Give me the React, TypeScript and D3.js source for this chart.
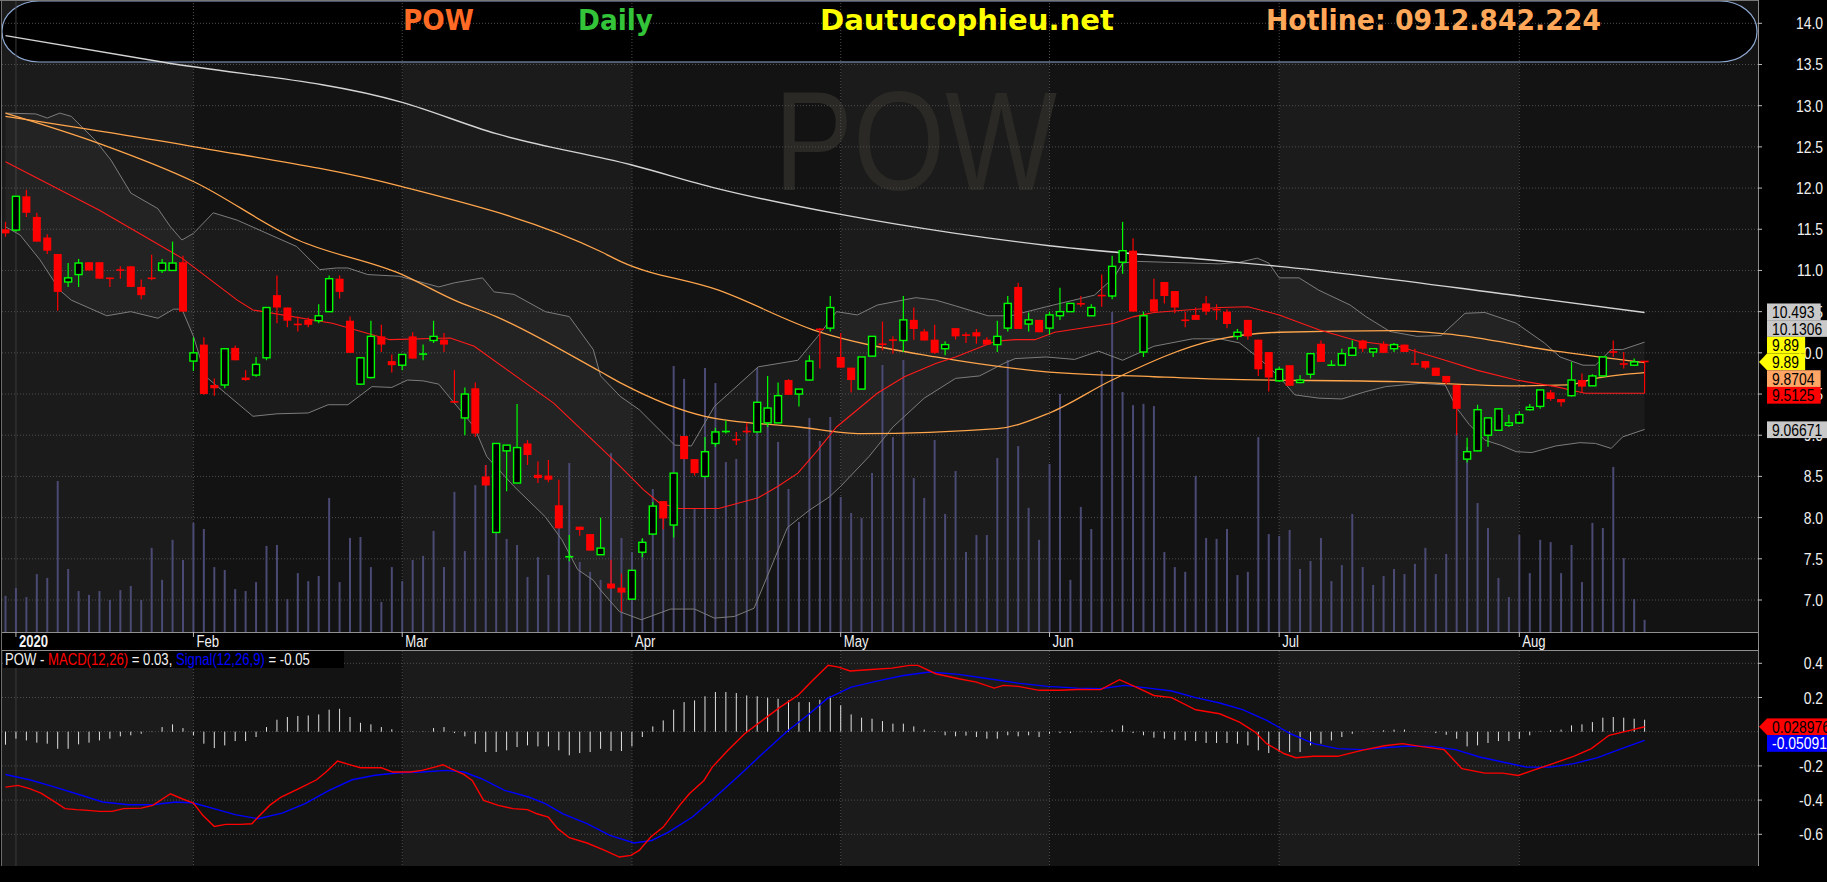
import React from 'react';
import * as d3 from 'd3';

const W = 1827;
const H = 882;

// first session of each month, as a bar index (bar 0 = 31 Dec 2019)
const monthTicks = [
  { label: '2020', index: 1, bold: true },
  { label: 'Feb', index: 18 },
  { label: 'Mar', index: 38 },
  { label: 'Apr', index: 60 },
  { label: 'May', index: 80 },
  { label: 'Jun', index: 100 },
  { label: 'Jul', index: 122 },
  { label: 'Aug', index: 145 },
];

// daily bars: [open, high, low, close]
const ohlc: [number, number, number, number][] = [
  [11.50, 11.59, 11.41, 11.45], [11.49, 11.90, 11.47, 11.90], [11.90, 11.98, 11.65, 11.70], [11.65, 11.70, 11.35, 11.35],
  [11.40, 11.44, 11.20, 11.24], [11.20, 11.20, 10.51, 10.74], [10.86, 11.09, 10.80, 10.91], [10.95, 11.14, 10.80, 11.09],
  [11.10, 11.10, 11.00, 11.00], [11.10, 11.10, 10.90, 10.90], [10.91, 10.91, 10.80, 10.90], [11.01, 11.05, 10.90, 11.00],
  [11.05, 11.05, 10.80, 10.80], [10.80, 10.89, 10.65, 10.70], [10.91, 11.19, 10.88, 10.90], [11.00, 11.14, 10.97, 11.09],
  [11.00, 11.35, 11.00, 11.09], [11.10, 11.18, 10.50, 10.50], [9.90, 10.19, 9.78, 10.00], [10.10, 10.19, 9.49, 9.50],
  [9.61, 9.69, 9.48, 9.57], [9.61, 10.05, 9.57, 10.05], [10.06, 10.09, 9.91, 9.91], [9.70, 9.79, 9.66, 9.67],
  [9.73, 9.95, 9.71, 9.86], [9.94, 10.55, 9.91, 10.55], [10.70, 10.94, 10.36, 10.55], [10.55, 10.55, 10.31, 10.39],
  [10.35, 10.44, 10.26, 10.34], [10.40, 10.43, 10.31, 10.34], [10.39, 10.59, 10.36, 10.45], [10.50, 10.94, 10.50, 10.90],
  [10.90, 10.94, 10.66, 10.74], [10.39, 10.44, 10.00, 10.00], [9.62, 9.95, 9.61, 9.94], [9.70, 10.39, 9.69, 10.20],
  [10.20, 10.34, 10.01, 10.10], [9.90, 9.98, 9.76, 9.85], [9.85, 9.98, 9.79, 9.98], [10.20, 10.25, 9.93, 9.93],
  [9.98, 10.10, 9.91, 9.99], [10.15, 10.39, 10.12, 10.20], [10.16, 10.24, 10.01, 10.10], [9.41, 9.79, 9.39, 9.40],
  [9.21, 9.58, 9.00, 9.50], [9.57, 9.64, 8.98, 9.02], [8.50, 8.64, 8.39, 8.39], [7.82, 8.90, 7.82, 8.90],
  [8.81, 8.88, 8.32, 8.88], [8.42, 9.38, 8.42, 8.85], [8.90, 8.94, 8.64, 8.76], [8.52, 8.68, 8.42, 8.48],
  [8.51, 8.70, 8.43, 8.46], [8.15, 8.46, 7.87, 7.87], [7.52, 7.79, 7.47, 7.53], [7.89, 7.89, 7.78, 7.85],
  [7.80, 7.80, 7.60, 7.60], [7.55, 8.00, 7.55, 7.63], [7.20, 7.49, 7.14, 7.14], [7.15, 7.32, 6.86, 7.09],
  [7.01, 7.36, 7.01, 7.36], [7.58, 7.75, 7.52, 7.70], [7.80, 8.19, 7.80, 8.14], [8.20, 8.20, 7.86, 7.99],
  [7.91, 8.54, 7.76, 8.54], [8.99, 8.99, 8.71, 8.71], [8.71, 8.71, 8.51, 8.54], [8.50, 8.98, 8.50, 8.80],
  [8.90, 9.09, 8.86, 9.04], [9.04, 9.18, 9.02, 9.05], [8.95, 9.04, 8.88, 8.94], [9.05, 9.15, 9.02, 9.04],
  [9.04, 9.40, 9.04, 9.40], [9.15, 9.72, 9.10, 9.33], [9.15, 9.64, 9.15, 9.48], [9.67, 9.68, 9.49, 9.49],
  [9.50, 9.56, 9.35, 9.56], [9.67, 9.97, 9.66, 9.90], [10.29, 10.30, 9.81, 10.28], [10.30, 10.69, 10.26, 10.55],
  [9.95, 10.24, 9.82, 9.82], [9.82, 9.82, 9.52, 9.67], [9.56, 9.95, 9.56, 9.95], [9.96, 10.20, 9.96, 10.20],
  [10.11, 10.38, 10.03, 10.10], [10.16, 10.20, 9.99, 10.15], [10.15, 10.69, 10.01, 10.40], [10.40, 10.55, 10.16, 10.29],
  [10.26, 10.29, 10.15, 10.15], [10.16, 10.34, 9.99, 10.00], [10.05, 10.14, 9.97, 10.10], [10.30, 10.30, 10.16, 10.20],
  [10.22, 10.25, 10.12, 10.21], [10.25, 10.29, 10.11, 10.20], [10.16, 10.19, 10.10, 10.10], [10.10, 10.39, 10.01, 10.20],
  [10.30, 10.69, 10.26, 10.60], [10.80, 10.85, 10.29, 10.29], [10.35, 10.49, 10.26, 10.40], [10.40, 10.40, 10.25, 10.25],
  [10.30, 10.50, 10.22, 10.46], [10.45, 10.79, 10.40, 10.50], [10.50, 10.60, 10.50, 10.60], [10.60, 10.69, 10.56, 10.59],
  [10.45, 10.59, 10.45, 10.55], [10.70, 10.95, 10.56, 10.69], [10.69, 11.18, 10.65, 11.05], [11.10, 11.59, 10.96, 11.24],
  [11.24, 11.39, 10.50, 10.50], [10.01, 10.50, 9.95, 10.45], [10.65, 10.90, 10.50, 10.50], [10.86, 10.86, 10.60, 10.69],
  [10.75, 10.75, 10.48, 10.55], [10.40, 10.50, 10.31, 10.39], [10.46, 10.55, 10.40, 10.40], [10.60, 10.69, 10.46, 10.50],
  [10.53, 10.59, 10.40, 10.52], [10.50, 10.53, 10.30, 10.35], [10.20, 10.29, 10.16, 10.25], [10.40, 10.40, 10.16, 10.20],
  [10.16, 10.16, 9.72, 9.80], [10.01, 10.01, 9.53, 9.70], [9.66, 9.83, 9.65, 9.80], [9.85, 9.85, 9.60, 9.60],
  [9.64, 9.73, 9.63, 9.67], [9.74, 9.99, 9.69, 9.99], [10.11, 10.15, 9.89, 9.89], [9.84, 9.91, 9.84, 9.86],
  [9.85, 10.05, 9.85, 9.99], [9.97, 10.15, 9.97, 10.06], [10.15, 10.16, 10.01, 10.05], [10.01, 10.05, 9.95, 10.05],
  [10.11, 10.14, 10.00, 10.00], [10.05, 10.12, 10.01, 10.10], [10.10, 10.10, 10.01, 10.01], [9.87, 10.05, 9.86, 9.86],
  [9.90, 9.90, 9.80, 9.82], [9.82, 9.82, 9.72, 9.72], [9.72, 9.72, 9.62, 9.64], [9.61, 9.61, 9.00, 9.32],
  [8.71, 8.97, 8.67, 8.80], [8.81, 9.37, 8.81, 9.31], [9.00, 9.21, 8.86, 9.21], [9.06, 9.32, 9.06, 9.32],
  [9.12, 9.25, 9.10, 9.15], [9.15, 9.29, 9.14, 9.25], [9.31, 9.38, 9.30, 9.34], [9.35, 9.55, 9.32, 9.55],
  [9.52, 9.55, 9.42, 9.44], [9.44, 9.44, 9.35, 9.40], [9.48, 9.89, 9.47, 9.67], [9.67, 9.75, 9.52, 9.59],
  [9.60, 9.74, 9.60, 9.72], [9.72, 9.95, 9.72, 9.95], [10.02, 10.15, 9.95, 10.00], [9.87, 10.01, 9.81, 9.86],
  [9.85, 9.93, 9.84, 9.89], [9.90, 9.90, 9.51, 9.89],
];

// volume, millions of shares
const volume = [
  1.13, 1.38, 1.09, 1.81, 1.69, 4.72, 1.97, 1.28, 1.16, 1.28, 1.00, 1.31, 1.44, 1.00, 2.63, 1.63, 2.88, 2.25,
  3.41, 3.22, 2.03, 1.94, 1.34, 1.28, 1.56, 2.69, 2.72, 1.03, 1.84, 1.59, 1.75, 4.19, 1.56, 2.94, 2.97, 2.03, 0.94, 2.03,
  1.59, 2.25, 2.38, 3.16, 2.03, 4.38, 2.53, 4.59, 5.22, 3.09, 2.91, 2.72, 1.72, 2.34, 1.78, 3.81, 5.28, 2.19, 1.88, 1.63, 5.59, 2.94,
  2.50, 2.91, 4.47, 4.03, 8.31, 7.91, 3.84, 8.25, 7.78, 5.31, 5.41, 6.41, 8.25, 6.72, 5.94, 4.47, 3.44, 6.69, 5.97, 6.72,
  4.22, 3.72, 3.56, 4.97, 8.34, 6.09, 8.50, 4.81, 4.19, 6.00, 3.69, 5.03, 2.50, 3.03, 3.03, 5.44, 8.50, 5.81, 3.88, 2.88,
  5.25, 7.44, 1.63, 3.91, 3.22, 8.16, 10.0, 7.50, 7.09, 7.13, 7.06, 2.50, 2.03, 1.88, 4.88, 2.94, 2.91, 3.22, 1.78, 1.88, 6.09, 3.06,
  3.00, 3.19, 1.97, 2.22, 2.94, 1.59, 2.09, 3.69, 2.03, 1.47, 1.75, 1.97, 1.81, 2.13, 2.63, 1.81, 2.44, 6.22, 5.78, 4.03, 3.25,
  1.69, 1.09, 3.03, 1.84, 2.88, 2.81, 1.84, 2.72, 1.56, 3.41, 3.25, 5.16, 2.31, 1.03, 0.38,
];

// indicator lines: [bar index, value]
const ma200: [number, number][] = [
  [0, 13.85], [15, 13.53], [38, 13.04], [47, 12.66], [60, 12.28], [68, 12.0], [80, 11.68], [91, 11.45],
  [100, 11.30], [116, 11.12], [122, 11.05], [145, 10.69], [157, 10.49],
];
const ma50: [number, number][] = [
  [0, 12.91], [9, 12.54], [18, 12.08], [28, 11.37], [38, 10.95], [43, 10.64], [47, 10.44], [57, 9.77], [59, 9.63],
  [67, 9.23], [76, 9.10], [82, 9.02], [95, 9.08], [100, 9.27], [106, 9.67], [116, 10.16], [122, 10.25],
  [133, 10.27], [138, 10.23], [148.5, 10.02], [157, 9.88],
];
const ma100: [number, number][] = [
  [0, 12.87], [17.7, 12.51], [37.9, 12.02], [57, 11.23], [58.9, 11.11], [68.3, 10.76], [77.8, 10.26], [89.1, 9.95],
  [99.7, 9.77], [110, 9.71], [116.3, 9.68], [133.3, 9.65], [144.7, 9.60], [149.6, 9.61], [152.3, 9.69], [157, 9.76],
];
const ma20: [number, number][] = [
  [0, 12.32], [9, 11.73], [16.9, 11.15], [22.2, 10.64], [23.7, 10.52], [31.3, 10.36], [36.8, 10.16], [42.6, 10.18],
  [44.9, 10.08], [52.5, 9.39], [57, 8.85], [58.9, 8.62], [61.1, 8.34], [62.6, 8.18], [64.5, 8.11], [68.3, 8.11],
  [72.1, 8.24], [74, 8.38], [75.9, 8.54], [77.8, 8.82], [79.6, 9.10], [83.5, 9.51], [86.1, 9.71], [89.1, 9.87],
  [91, 9.95], [94.8, 10.14], [96.7, 10.16], [98.6, 10.16], [100.5, 10.25], [106.2, 10.36], [108.1, 10.44], [110, 10.49],
  [116.3, 10.55], [119, 10.56], [122, 10.46], [125.8, 10.28], [129.6, 10.14], [133.4, 10.08], [137.9, 9.91],
  [140.9, 9.79], [144.7, 9.67], [148.5, 9.59], [151.3, 9.51], [157, 9.51],
];
const bbUpper: [number, number][] = [
  [0, 12.91], [2.9, 12.90], [4, 12.85], [5.2, 12.91], [6.3, 12.87], [8.6, 12.58], [10.1, 12.34], [12, 11.94],
  [14.6, 11.75], [15.8, 11.53], [16.9, 11.37], [18, 11.45], [19.9, 11.70], [22.2, 11.61], [27.9, 11.29], [30.1, 11.01],
  [31.7, 11.03], [32.8, 11.03], [34.7, 10.95], [37.7, 10.93], [41.5, 10.80], [43, 10.85], [45.7, 10.91], [46.8, 10.74],
  [48.7, 10.71], [51.7, 10.50], [54, 10.44], [56.3, 10.04], [57, 9.72], [58.9, 9.47], [60.7, 9.31], [64.1, 8.88],
  [65.7, 8.87], [67.9, 9.35], [72.1, 9.83], [75.9, 9.91], [77.8, 10.20], [79.6, 10.50], [81.6, 10.46], [83.5, 10.58],
  [87.2, 10.67], [89.1, 10.64], [91, 10.57], [94.1, 10.45], [96.3, 10.45], [99.7, 10.56], [104.3, 10.70], [106.2, 10.92],
  [107, 11.09], [108.4, 11.11], [116.3, 11.08], [118.2, 11.10], [119.9, 11.15], [121, 11.09], [122, 10.91], [123.9, 10.91],
  [125.8, 10.76], [128.8, 10.58], [130.3, 10.44], [132.6, 10.26], [135.2, 10.20], [137.5, 10.21], [139.8, 10.48],
  [141.7, 10.49], [144.7, 10.36], [147.4, 10.12], [148.9, 9.95], [151.1, 9.85], [152.3, 9.85], [153.8, 10.04],
  [154.9, 10.04], [157, 10.13],
];
const bbLower: [number, number][] = [
  [0, 11.53], [1.4, 11.43], [3.3, 11.13], [5.2, 10.76], [6.3, 10.64], [9.7, 10.45], [12, 10.50], [14.6, 10.42],
  [16.1, 10.53], [16.9, 10.53], [18, 10.20], [19.2, 9.71], [20.7, 9.55], [23.7, 9.23], [26, 9.26], [29, 9.27],
  [30.9, 9.37], [32.8, 9.37], [35.1, 9.59], [37, 9.58], [38.5, 9.67], [40, 9.66], [41.5, 9.62], [42.6, 9.45],
  [44.9, 9.10], [46.1, 8.74], [48.7, 8.38], [51.7, 8.01], [53.3, 7.73], [54.8, 7.37], [56.3, 7.24], [57, 7.12],
  [58.8, 6.86], [60.9, 6.76], [63.7, 6.89], [66, 6.89], [67.9, 6.78], [69.8, 6.80], [71.7, 6.90], [73.5, 7.45],
  [74.9, 7.88], [77, 8.09], [78.9, 8.25], [80, 8.38], [82.7, 8.74], [85, 9.10], [88, 9.45], [91, 9.69],
  [93.3, 9.72], [95.6, 9.87], [96.7, 9.93], [99.7, 9.95], [102.4, 9.92], [104.7, 10.02], [107, 9.91], [110, 10.08],
  [113.7, 10.17], [116.3, 10.17], [118.2, 10.12], [120.1, 9.93], [122, 9.71], [123.5, 9.49], [125.8, 9.45],
  [128, 9.44], [130.3, 9.53], [132.2, 9.59], [135.6, 9.63], [137.9, 9.61], [139, 9.33], [140.2, 9.13], [141.7, 8.94],
  [143.2, 8.88], [144.7, 8.80], [146.2, 8.79], [148.5, 8.87], [150.8, 8.91], [152.3, 8.90], [153.8, 8.84],
  [154.9, 8.98], [157, 9.07],
];

const macdLine: [number, number][] = [
  [0, -0.324], [1.2, -0.314], [2.3, -0.333], [3.4, -0.359], [4.5, -0.402], [5.7, -0.450], [6.8, -0.456], [7.9, -0.460],
  [9, -0.466], [10.2, -0.466], [11.3, -0.450], [13, -0.447], [14.1, -0.431], [15.8, -0.363], [16.9, -0.392], [18, -0.417],
  [18.9, -0.489], [20, -0.554], [21.1, -0.542], [22.5, -0.542], [23.6, -0.538], [24.2, -0.499], [25.3, -0.431],
  [26.4, -0.382], [28.1, -0.333], [29.8, -0.281], [30.7, -0.236], [31.8, -0.172], [33.2, -0.197], [34, -0.211],
  [36, -0.211], [37.1, -0.236], [38.8, -0.236], [39.9, -0.226], [41.1, -0.207], [41.9, -0.193], [42.7, -0.217],
  [43.9, -0.250], [44.7, -0.285], [45.8, -0.402], [47.2, -0.431], [48.6, -0.450], [50, -0.456], [50.9, -0.480],
  [52, -0.500], [52.9, -0.567], [54, -0.620], [55.7, -0.651], [57.4, -0.694], [58.8, -0.733], [59.9, -0.723],
  [60.7, -0.694], [61.8, -0.616], [63, -0.558], [64.7, -0.421], [65.5, -0.363], [66.9, -0.285], [67.7, -0.207],
  [69.2, -0.109], [70.8, -0.012], [72.5, 0.066], [74.2, 0.144], [75.9, 0.212], [77.3, 0.300], [78.8, 0.388],
  [79.8, 0.378], [80.9, 0.355], [82.6, 0.362], [84.9, 0.372], [86.6, 0.388], [87.4, 0.388], [89.1, 0.339],
  [91.3, 0.310], [93, 0.290], [94.7, 0.255], [95.6, 0.271], [97, 0.265], [99, 0.242], [101, 0.242], [102.7, 0.247],
  [104.9, 0.246], [106.7, 0.304], [108.3, 0.261], [110, 0.212], [111.7, 0.199], [114, 0.128], [116.3, 0.105],
  [118.2, 0.056], [119.7, -0.002], [120.8, -0.070], [122.5, -0.129], [123.6, -0.152], [125.3, -0.144], [127.6, -0.144],
  [129.9, -0.109], [132.1, -0.082], [133.8, -0.070], [135.5, -0.086], [137.8, -0.105], [139.5, -0.216], [141.7, -0.242],
  [143.4, -0.242], [144.9, -0.256], [146.3, -0.226], [148, -0.191], [150.2, -0.144], [151.9, -0.099], [153.6, -0.021],
  [155.9, 0.012], [157, 0.029],
];
const signalLine: [number, number][] = [
  [0, -0.250], [2.3, -0.281], [4.5, -0.320], [6.8, -0.363], [9.3, -0.411], [11.8, -0.427], [14.1, -0.427],
  [16.3, -0.411], [18, -0.417], [20.3, -0.456], [22, -0.485], [24.2, -0.509], [26.5, -0.476], [28.7, -0.421],
  [31, -0.343], [33.2, -0.281], [35.4, -0.255], [37.7, -0.240], [39.9, -0.236], [42.2, -0.226], [43.9, -0.236],
  [45.6, -0.275], [47.8, -0.343], [50.1, -0.382], [51.7, -0.421], [53.4, -0.480], [55.7, -0.538], [57.9, -0.606],
  [60.2, -0.651], [61.9, -0.636], [63.5, -0.587], [65.8, -0.499], [68, -0.382], [70.3, -0.255], [72.5, -0.129],
  [74.8, -0.002], [77, 0.105], [78.7, 0.193], [81, 0.261], [83.8, 0.300], [86, 0.329], [88.5, 0.349], [91.3, 0.335],
  [94.2, 0.310], [97, 0.284], [99.8, 0.265], [102.7, 0.255], [104.9, 0.251], [107.2, 0.271], [109.5, 0.255],
  [111.7, 0.238], [114, 0.199], [116.3, 0.168], [118.5, 0.129], [120.8, 0.066], [123.1, -0.012], [125.3, -0.070],
  [127.6, -0.099], [129.9, -0.105], [132.1, -0.094], [134.4, -0.084], [136.6, -0.086], [138.9, -0.105], [141.2, -0.148],
  [143.4, -0.177], [145.7, -0.207], [148, -0.207], [150.2, -0.187], [152.5, -0.152], [154.8, -0.099], [157, -0.051],
];
const macdHist = [
  -0.076, -0.041, -0.051, -0.064, -0.070, -0.100, -0.100, -0.074, -0.064, -0.051, -0.041, -0.027, -0.021, -0.012,
  -0.002, 0.027, 0.043, 0.021, -0.021, -0.070, -0.096, -0.080, -0.055, -0.055, -0.031, 0.027, 0.070, 0.086, 0.092,
  0.095, 0.101, 0.129, 0.134, 0.086, 0.052, 0.043, 0.027, 0.014, 0.002, 0.002, 0.002, 0.021, 0.027, -0.008, -0.027,
  -0.070, -0.119, -0.119, -0.109, -0.090, -0.080, -0.086, -0.086, -0.109, -0.138, -0.125, -0.119, -0.100, -0.113,
  -0.113, -0.086, -0.031, 0.031, 0.066, 0.129, 0.173, 0.183, 0.207, 0.232, 0.232, 0.226, 0.212, 0.207, 0.199, 0.193,
  0.183, 0.173, 0.173, 0.187, 0.207, 0.154, 0.101, 0.082, 0.076, 0.062, 0.047, 0.047, 0.031, 0.012, 0.004, -0.021,
  -0.027, -0.023, -0.031, -0.041, -0.041, -0.021, -0.027, -0.021, -0.031, -0.012, -0.008, -0.008, -0.002, -0.004,
  0.004, 0.012, 0.037, -0.008, -0.021, -0.035, -0.041, -0.047, -0.051, -0.055, -0.066, -0.066, -0.066, -0.070,
  -0.080, -0.109, -0.125, -0.119, -0.119, -0.119, -0.080, -0.070, -0.051, -0.031, -0.012, -0.002, 0.004, 0.008, 0.012,
  0.012, -0.002, -0.002, -0.008, -0.018, -0.041, -0.086, -0.080, -0.066, -0.055, -0.055, -0.041, -0.021, 0.002, 0.008,
  0.012, 0.037, 0.043, 0.056, 0.082, 0.086, 0.082, 0.076, 0.070,
];

const priceTicks = [14, 13.5, 13, 12.5, 12, 11.5, 11, 10.5, 10, 9.5, 9, 8.5, 8, 7.5, 7];
const macdTicks = [0.4, 0.2, 0, -0.2, -0.4, -0.6];

const priceTags = [
  { value: 10.493, text: '10.493', bg: '#c9c9c9', fg: '#000' },
  { value: 10.1306, text: '10.1306', bg: '#c9c9c9', fg: '#000' },
  { value: 9.89, text: '9.89', bg: '#ffff00', fg: '#000' },
  { value: 9.89, text: '9.89', bg: '#ffff00', fg: '#000', arrow: true },
  { value: 9.8704, text: '9.8704', bg: '#ffa566', fg: '#000' },
  { value: 9.5125, text: '9.5125', bg: '#ff0000', fg: '#000' },
  { value: 9.06671, text: '9.06671', bg: '#c9c9c9', fg: '#000' },
];
const macdTags = [
  { value: 0.028976, text: '0.028976', bg: '#ff0000', fg: '#000', arrow: true },
  { value: -0.05091, text: '-0.05091', bg: '#0000ff', fg: '#fff' },
];

const PLOT_L = 2;
const PLOT_R = 1758;
const PRICE_BOTTOM = 632;
const MACD_TOP = 651;
const MACD_BOTTOM = 866;
const SANS = "'Liberation Sans', Arial, sans-serif";
const SQUEEZE = 0.82; // narrow face look-alike

const x = d3.scaleLinear().domain([0, 157]).range([5.5, 1644.6]);
const y = d3.scaleLinear().domain([7, 14]).range([600, 23.3]);
const yVol = d3.scaleLinear().domain([0, 10]).range([PRICE_BOTTOM, 312]);
const yMacd = d3.scaleLinear().domain([-0.6, 0.4]).range([834.3, 663.3]);

const textW = (s: string) => s.split('').reduce((a, c) => a + (c === '.' ? 3.9 : c === '-' ? 5.2 : 7.75), 0);

// condensed text: horizontal squeeze around the anchor point
const NText: React.FC<{ x: number; y: number; size?: number; fill?: string; anchor?: string; weight?: string; children: React.ReactNode }> =
  ({ x: tx, y: ty, size = 17, fill = '#f0f0f0', anchor = 'start', weight = 'normal', children }) => (
    <text transform={`translate(${tx},${ty}) scale(${SQUEEZE},1)`} fontFamily={SANS} fontSize={size}
      fill={fill} textAnchor={anchor} fontWeight={weight}>{children}</text>
  );

// push tags apart around the arrow tag so they do not overlap
function stackTags<T extends { value: number; arrow?: boolean }>(tags: T[], scale: (v: number) => number, h: number) {
  const pos = tags.map(t => scale(t.value));
  const a = tags.findIndex(t => t.arrow);
  for (let i = a - 1; i >= 0; i--) pos[i] = Math.min(pos[i], pos[i + 1] - h);
  for (let i = a + 1; i < tags.length; i++) pos[i] = Math.max(pos[i], pos[i - 1] + h);
  return pos;
}

const Tags: React.FC<{ tags: any[]; scale: (v: number) => number }> = ({ tags, scale }) => {
  const h = 16.7;
  const pos = stackTags(tags, scale, h);
  return (
    <g>
      {tags.map((t, i) => {
        const cy = pos[i];
        const bx = 1767;
        const bw = textW(t.text) + 11;
        return (
          <g key={i}>
            {t.arrow && (
              <path d={`M${1759},${cy} L${bx},${cy - h / 2} L${bx},${cy + h / 2} Z`} fill={t.bg} />
            )}
            <rect x={bx} y={cy - h / 2} width={bw} height={h} fill={t.bg} />
            <NText x={bx + 5} y={cy + 6} fill={t.fg}>{t.text}</NText>
          </g>
        );
      })}
    </g>
  );
};

export default function App() {
  const smooth = d3.line<[number, number]>().x(d => x(d[0])).y(d => y(d[1])).curve(d3.curveMonotoneX);
  const jag = d3.line<[number, number]>().x(d => x(d[0])).y(d => y(d[1]));
  const macdGen = d3.line<[number, number]>().x(d => x(d[0])).y(d => yMacd(d[1]));
  const bandPath = jag([...bbUpper, ...[...bbLower].reverse()]) + 'Z';

  const tickX = monthTicks.map(m => x(m.index));
  const bands = monthTicks.map((m, i) => ({
    x0: i === 0 ? PLOT_L : tickX[i],
    x1: i === monthTicks.length - 1 ? PLOT_R : tickX[i + 1],
    fill: i % 2 === 0 ? '#1b1b1b' : '#131313',
  }));

  const bodyW = 7;

  return (
    <div style={{ width: W, height: H, background: '#000' }}>
      <style>{'body{margin:0;background:#000;}'}</style>
      <svg width={W} height={H} style={{ display: 'block' }}>
        <defs>
          <clipPath id="clipPrice"><rect x={PLOT_L} y={0} width={PLOT_R - PLOT_L} height={PRICE_BOTTOM} /></clipPath>
          <clipPath id="clipMacd"><rect x={PLOT_L} y={MACD_TOP} width={PLOT_R - PLOT_L} height={MACD_BOTTOM - MACD_TOP} /></clipPath>
        </defs>
        <rect x={0} y={0} width={W} height={H} fill="#000" />

        {/* month shading */}
        {bands.map((b, i) => (
          <g key={i}>
            <rect x={b.x0} y={0} width={b.x1 - b.x0} height={PRICE_BOTTOM} fill={b.fill} />
            <rect x={b.x0} y={MACD_TOP} width={b.x1 - b.x0} height={MACD_BOTTOM - MACD_TOP} fill={b.fill} />
          </g>
        ))}

        {/* header */}
        <rect x={2} y={1} width={1755} height={61} rx={37} ry={30} fill="#000" stroke="#8ea8d2" strokeWidth={1.2} />

        {/* watermark */}
        <text x={774} y={190} fontFamily={SANS} fontSize={141} fill="#2a2925"
          textLength={283} lengthAdjust="spacingAndGlyphs">POW</text>

        {/* grid */}
        <g stroke="#4e4e4e" strokeWidth={1} strokeDasharray="1,2">
          {priceTicks.map(t => (
            <line key={t} x1={PLOT_L} x2={PLOT_R} y1={y(t)} y2={y(t)} />
          ))}
          {macdTicks.map(t => (
            <line key={t} x1={PLOT_L} x2={PLOT_R} y1={yMacd(t)} y2={yMacd(t)} />
          ))}
          {tickX.map((tx, i) => (
            <g key={i}>
              <line x1={tx} x2={tx} y1={0} y2={PRICE_BOTTOM} strokeDasharray={i === 0 ? 'none' : '1,2'} stroke={i === 0 ? '#3c3c3c' : '#4e4e4e'} />
              <line x1={tx} x2={tx} y1={MACD_TOP} y2={MACD_BOTTOM} strokeDasharray={i === 0 ? 'none' : '1,2'} stroke={i === 0 ? '#3c3c3c' : '#4e4e4e'} />
            </g>
          ))}
        </g>

        <g clipPath="url(#clipPrice)">
          {/* bollinger fill */}
          <path d={bandPath} fill="rgba(255,255,255,0.035)" />

          {/* volume */}
          <g stroke="#4a4a74" strokeWidth={2}>
            {volume.map((v, i) => (
              <line key={i} x1={x(i)} x2={x(i)} y1={PRICE_BOTTOM} y2={yVol(v)} />
            ))}
          </g>

          {/* bollinger and moving averages */}
          <path d={jag(bbUpper) || ''} fill="none" stroke="#7c7c7c" strokeWidth={1} />
          <path d={jag(bbLower) || ''} fill="none" stroke="#7c7c7c" strokeWidth={1} />
          <path d={smooth(ma200) || ''} fill="none" stroke="#d4d4d4" strokeWidth={1.4} />
          <path d={smooth(ma100) || ''} fill="none" stroke="#ffa54c" strokeWidth={1.3} />
          <path d={smooth(ma50) || ''} fill="none" stroke="#ffa54c" strokeWidth={1.3} />
          <path d={jag(ma20) || ''} fill="none" stroke="#ff1a1a" strokeWidth={1.1} />

          {/* candles */}
          {ohlc.map(([o, h, l, c], i) => {
            const up = c > o;
            const col = up ? '#00ff00' : '#ff0000';
            const cx = x(i);
            const top = y(Math.max(o, c));
            const bot = y(Math.min(o, c));
            const bh = bot - top;
            return (
              <g key={i}>
                <line x1={cx} x2={cx} y1={y(h)} y2={y(l)} stroke={col} strokeWidth={1.2} />
                {bh < 2 ? (
                  <line x1={cx - bodyW / 2 - 0.5} x2={cx + bodyW / 2 + 0.5} y1={(top + bot) / 2} y2={(top + bot) / 2} stroke={col} strokeWidth={1.6} />
                ) : up ? (
                  <rect x={cx - bodyW / 2} y={top} width={bodyW} height={bh} fill="#000" stroke={col} strokeWidth={1.4} />
                ) : (
                  <rect x={cx - bodyW / 2 - 0.5} y={top} width={bodyW + 1} height={bh} fill={col} />
                )}
              </g>
            );
          })}
        </g>

        {/* header texts */}
        <g fontFamily="'DejaVu Sans', Verdana, sans-serif" fontWeight="bold" fontSize={29}>
          <text x={403} y={29.5} fill="#ff6b24" textLength={71} lengthAdjust="spacingAndGlyphs">POW</text>
          <text x={578} y={29.5} fill="#33c43a" textLength={75} lengthAdjust="spacingAndGlyphs">Daily</text>
          <text x={820} y={29.5} fill="#ffff00" textLength={294} lengthAdjust="spacingAndGlyphs">Dautucophieu.net</text>
          <text x={1266} y={29.5} fill="#ffa859" textLength={335} lengthAdjust="spacingAndGlyphs">Hotline: 0912.842.224</text>
        </g>

        {/* date axis */}
        <rect x={PLOT_L} y={PRICE_BOTTOM} width={PLOT_R - PLOT_L} height={MACD_TOP - PRICE_BOTTOM} fill="#000" />
        <line x1={PLOT_L} x2={PLOT_R} y1={PRICE_BOTTOM + 0.5} y2={PRICE_BOTTOM + 0.5} stroke="#909090" />
        <line x1={PLOT_L} x2={PLOT_R} y1={MACD_TOP - 0.5} y2={MACD_TOP - 0.5} stroke="#909090" />
        {monthTicks.map((m, i) => (
          <g key={m.label}>
            <line x1={tickX[i]} x2={tickX[i]} y1={PRICE_BOTTOM} y2={PRICE_BOTTOM + 5} stroke="#bbb" />
            <NText x={tickX[i] + 3} y={647} size={16} weight={m.bold ? 'bold' : 'normal'} fill="#f2f2f2">{m.label}</NText>
          </g>
        ))}

        {/* macd panel */}
        <g clipPath="url(#clipMacd)">
          <g stroke="#e0e0e0" strokeWidth={1}>
            {macdHist.map((v, i) => (
              <line key={i} x1={x(i)} x2={x(i)} y1={yMacd(0)} y2={yMacd(v)} />
            ))}
          </g>
          <path d={macdGen(signalLine) || ''} fill="none" stroke="#0000ff" strokeWidth={1.4} />
          <path d={macdGen(macdLine) || ''} fill="none" stroke="#ff0000" strokeWidth={1.4} />
        </g>
        <rect x={3} y={MACD_TOP} width={341} height={17} fill="#000" />
        <NText x={5} y={665} size={16} fill="#f2f2f2">
          POW - <tspan fill="#ff0000">MACD(12,26)</tspan> = 0.03, <tspan fill="#0000ff">Signal(12,26,9)</tspan> = -0.05
        </NText>

        {/* frame */}
        <line x1={PLOT_R + 0.5} x2={PLOT_R + 0.5} y1={0} y2={MACD_BOTTOM} stroke="#8c8c8c" />
        <line x1={1.5} x2={1.5} y1={0} y2={MACD_BOTTOM} stroke="#6c6c6c" />
        <line x1={0} x2={PLOT_R} y1={0.5} y2={0.5} stroke="#777" />

        {/* right axes */}
        {priceTicks.map(t => (
          <g key={t}>
            <line x1={PLOT_R} x2={PLOT_R + 4} y1={y(t)} y2={y(t)} stroke="#bbb" />
            <NText x={1823} y={y(t) + 6} anchor="end">{t.toFixed(1)}</NText>
          </g>
        ))}
        {macdTicks.filter(t => t !== 0).map(t => (
          <g key={t}>
            <line x1={PLOT_R} x2={PLOT_R + 4} y1={yMacd(t)} y2={yMacd(t)} stroke="#bbb" />
            <NText x={1823} y={yMacd(t) + 6} anchor="end">{t.toFixed(1)}</NText>
          </g>
        ))}
        <Tags tags={priceTags} scale={y} />
        <Tags tags={macdTags} scale={yMacd} />
      </svg>
    </div>
  );
}
